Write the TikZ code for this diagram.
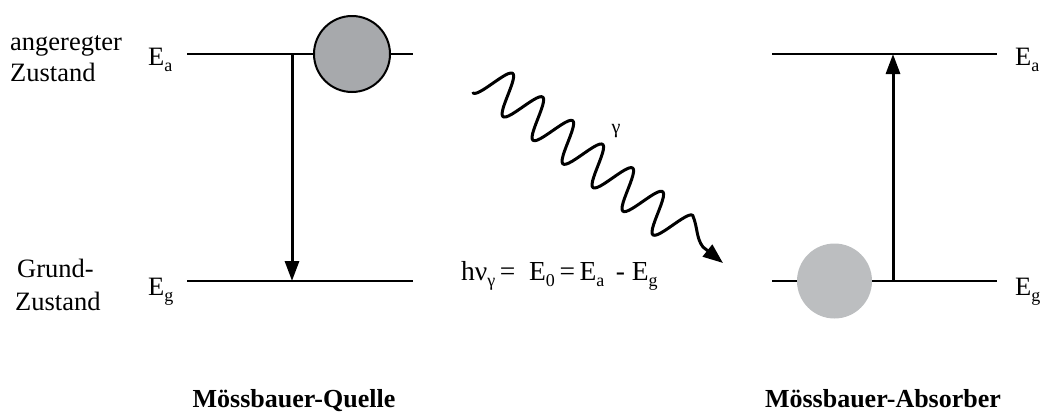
\documentclass[tikz,border=0pt]{standalone}
\usepackage{fontspec}
\setmainfont{Liberation Serif}
\usetikzlibrary{arrows.meta}
\newcommand{\lowsub}[1]{\raisebox{-0.5ex}{\fontsize{18}{18}\selectfont #1}}
\begin{document}
\begin{tikzpicture}[x=1pt,y=-1pt,
  level/.style={line width=1.5pt},
  trans/.style={line width=3pt,-{Triangle[length=20pt,width=14pt]}},
  txt/.style={font=\fontsize{26.5}{30}\selectfont,inner sep=0pt},
  lbl/.style={font=\fontsize{26}{30}\selectfont\bfseries,inner sep=0pt}]
\useasboundingbox (0,0) rectangle (1045,413);
% levels
\coordinate (la1) at (187,54); \coordinate (la2) at (413,54);
\coordinate (lg1) at (187,281); \coordinate (lg2) at (413,281);
\coordinate (ra1) at (772,54); \coordinate (ra2) at (997,54);
\coordinate (rg1) at (772,281); \coordinate (rg2) at (997,281);
\draw[level] (la1) -- (la2);
\draw[level] (lg1) -- (lg2);
\draw[level] (ra1) -- (ra2);
\draw[level] (rg1) -- (rg2);
% circles
\node[circle,draw=black,line width=2pt,fill={rgb,255:red,167;green,169;blue,172},minimum size=76pt,inner sep=0pt] (c1) at (352,54) {};
\node[circle,fill={rgb,255:red,188;green,190;blue,192},minimum size=75pt,inner sep=0pt] (c2) at (834.5,281) {};
% transitions
\coordinate (d1) at (292,54); \coordinate (d2) at (292,281);
\coordinate (u1) at (893,281); \coordinate (u2) at (893,54);
\draw[trans] (d1) -- (d2);
\draw[trans] (u1) -- (u2);
% gamma wave
\coordinate (w1) at (473,93);
\coordinate (w2) at (723,263);
\draw[line width=3pt,line cap=round,line join=round,-{Triangle[length=20pt,width=15pt]}]
  (w1) -- plot[domain=0:248.3,samples=160,variable=\t]
  ({473+0.785*\t+12.38*(1-cos(9.4241*\t))},{93+0.619*\t-15.7*(1-cos(9.4241*\t))})
  .. controls (698,228) and (696,238) .. (703,247) -- (w2);
% texts
\node[txt,anchor=base west] (t1) at (10,50) {angeregter};
\node[txt,anchor=base west] (t2) at (10,81) {Zustand};
\node[txt,anchor=base west] (t3) at (17,277) {Grund-};
\node[txt,anchor=base west] (t4) at (15,310) {Zustand};
\node[txt,anchor=base west] (ea1) at (148,65) {E\lowsub{a}};
\node[txt,anchor=base west] (eg1) at (148,295) {E\lowsub{g}};
\node[txt,anchor=base west] (ea2) at (1015,65) {E\lowsub{a}};
\node[txt,anchor=base west] (eg2) at (1015,295) {E\lowsub{g}};
\node[inner sep=0pt,font=\fontsize{20}{20}\selectfont] (gam) at (616,131) {γ};
\node[inner sep=0pt,font=\fontsize{27.5}{30}\selectfont,anchor=base west] (form) at (461,280) {hν\lowsub{γ}\,=\ \ E\lowsub{0}\,=\,E\lowsub{a}\ \,-\ E\lowsub{g}};
\node[lbl,anchor=base] (q) at (294,407) {Mössbauer-Quelle};
\node[lbl,anchor=base] (a) at (883,407) {Mössbauer-Absorber};
\end{tikzpicture}
\end{document}
